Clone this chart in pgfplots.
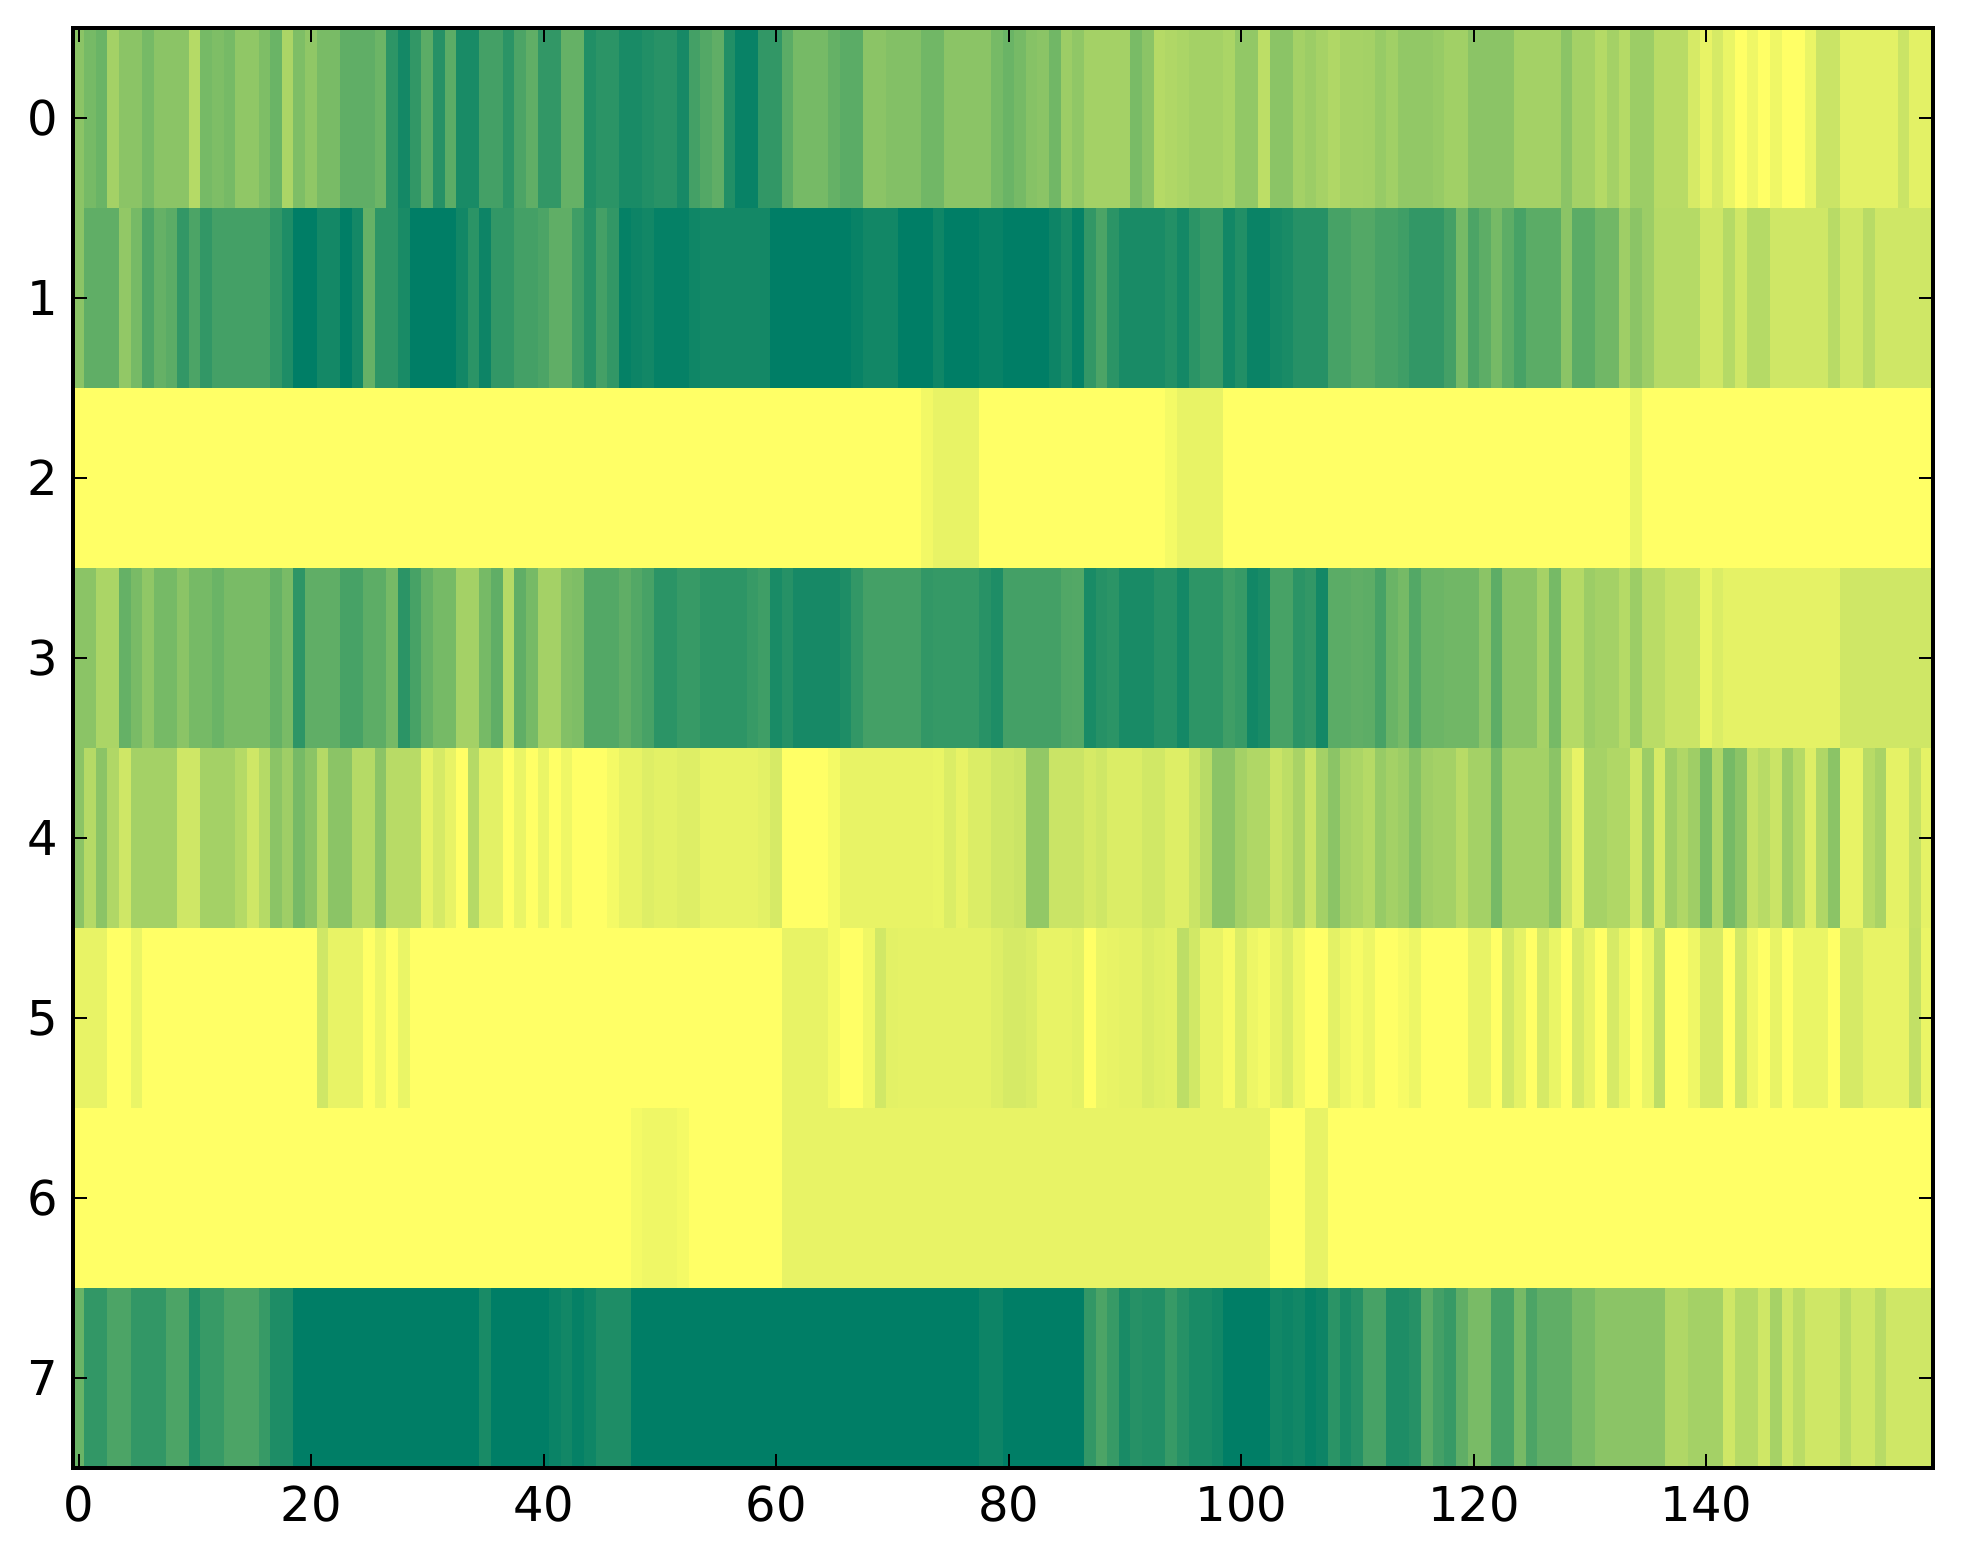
\documentclass[border=0pt]{standalone}
\usepackage{pgfplots}
\usepackage{fontspec}
\setmainfont{DejaVu Sans}
\pgfplotsset{compat=1.18}
\begin{document}
\begin{tikzpicture}
\useasboundingbox (-36.5pt,-48pt) rectangle (945pt,734pt);
\begin{axis}[
  scale only axis, width=930pt, height=720pt,
  xmin=-0.5, xmax=159.5, ymin=-0.5, ymax=7.5, y dir=reverse,
  axis on top, axis line style={line width=2pt, black},
  tick align=inside, major tick length=7pt, tick style={line width=0.9pt, black},
  xtick={0,20,...,140}, ytick={0,...,7},
  xtick pos=both, ytick pos=both,
  xticklabel pos=bottom, yticklabel pos=left,
  tick label style={font=\fontsize{24}{28}\selectfont},
  /pgf/number format/assume math mode=true,
  xticklabel style={yshift=-5.5pt}, yticklabel style={xshift=-4pt},
  colormap={summerr}{rgb255(0)=(0,126,102) rgb255(98)=(247,251,102) rgb255(100)=(255,255,102)},
  point meta min=0, point meta max=100,
]
\addplot[matrix plot*, mesh/cols=160, point meta=\thisrow{v}, draw=none] table[
  row sep=crcr,
  x expr={mod(\coordindex,160)},
  y expr={floor(\coordindex/160)},
] {
v\\
55\\47\\42\\65\\55\\55\\47\\55\\55\\55\\72\\47\\50\\47\\57\\57\\50\\42\\68\\50\\57\\48\\48\\38\\38\\38\\43\\18\\8\\20\\36\\15\\36\\10\\10\\27\\27\\17\\30\\38\\20\\20\\40\\40\\13\\17\\17\\10\\10\\13\\16\\16\\9\\27\\33\\38\\13\\3\\3\\20\\20\\36\\47\\47\\47\\40\\36\\36\\55\\55\\52\\52\\52\\45\\45\\55\\55\\55\\55\\47\\
42\\47\\53\\55\\45\\62\\57\\65\\65\\65\\65\\48\\55\\72\\70\\68\\65\\65\\65\\68\\58\\58\\75\\55\\55\\65\\62\\66\\70\\66\\66\\65\\60\\64\\58\\58\\58\\60\\64\\64\\55\\55\\55\\55\\65\\65\\65\\65\\55\\65\\65\\72\\65\\72\\62\\62\\73\\73\\73\\85\\92\\85\\93\\100\\95\\100\\95\\100\\100\\93\\80\\80\\90\\90\\90\\90\\90\\80\\90\\90\\
55\\38\\38\\38\\58\\47\\30\\40\\36\\20\\30\\20\\27\\27\\27\\27\\27\\20\\12\\0\\0\\8\\8\\0\\8\\40\\18\\18\\10\\0\\0\\0\\0\\7\\17\\5\\20\\20\\27\\27\\30\\38\\38\\25\\15\\27\\20\\2\\5\\7\\2\\2\\2\\6\\8\\8\\8\\8\\8\\8\\0\\0\\0\\0\\0\\0\\0\\3\\7\\7\\7\\0\\0\\0\\6\\0\\0\\0\\3\\3\\
0\\0\\0\\0\\5\\10\\2\\20\\30\\17\\10\\10\\10\\10\\14\\8\\17\\22\\22\\7\\13\\4\\4\\8\\10\\15\\15\\15\\28\\28\\33\\33\\28\\28\\25\\20\\20\\20\\27\\47\\30\\37\\47\\37\\28\\36\\36\\36\\55\\36\\36\\45\\45\\63\\55\\62\\72\\72\\72\\72\\82\\82\\72\\82\\72\\72\\82\\82\\82\\82\\82\\73\\82\\82\\73\\82\\82\\82\\82\\82\\
100\\100\\100\\100\\100\\100\\100\\100\\100\\100\\100\\100\\100\\100\\100\\100\\100\\100\\100\\100\\100\\100\\100\\100\\100\\100\\100\\100\\100\\100\\100\\100\\100\\100\\100\\100\\100\\100\\100\\100\\100\\100\\100\\100\\100\\100\\100\\100\\100\\100\\100\\100\\100\\100\\100\\100\\100\\100\\100\\100\\100\\100\\100\\100\\100\\100\\100\\100\\100\\100\\100\\100\\100\\96\\92\\92\\92\\92\\100\\100\\
100\\100\\100\\100\\100\\100\\100\\100\\100\\100\\100\\100\\100\\100\\97\\92\\92\\92\\92\\100\\100\\100\\100\\100\\100\\100\\100\\100\\100\\100\\100\\100\\100\\100\\100\\100\\100\\100\\100\\100\\100\\100\\100\\100\\100\\100\\100\\100\\100\\100\\100\\100\\100\\100\\93\\100\\100\\100\\100\\100\\100\\100\\100\\100\\100\\100\\100\\100\\100\\100\\100\\100\\100\\100\\100\\100\\100\\100\\100\\100\\
55\\55\\68\\68\\40\\48\\57\\47\\47\\55\\47\\47\\42\\48\\48\\48\\48\\40\\48\\18\\38\\38\\38\\28\\28\\37\\37\\47\\17\\28\\40\\47\\47\\65\\65\\47\\38\\72\\38\\47\\65\\65\\52\\50\\33\\33\\33\\38\\33\\28\\17\\17\\22\\22\\18\\18\\18\\18\\22\\25\\10\\15\\9\\9\\9\\9\\12\\20\\27\\27\\27\\27\\27\\20\\21\\21\\21\\21\\16\\12\\
27\\27\\27\\27\\27\\32\\33\\10\\15\\17\\10\\10\\10\\15\\15\\8\\18\\18\\18\\25\\22\\7\\10\\28\\28\\17\\20\\8\\36\\36\\38\\37\\28\\42\\47\\33\\43\\43\\45\\45\\45\\55\\37\\55\\55\\55\\66\\47\\72\\72\\62\\65\\65\\72\\62\\74\\74\\80\\80\\80\\93\\87\\91\\91\\91\\91\\91\\91\\91\\91\\91\\91\\82\\82\\82\\82\\82\\82\\82\\82\\
55\\72\\55\\70\\82\\65\\65\\65\\65\\82\\82\\65\\65\\65\\72\\82\\72\\55\\63\\47\\55\\72\\55\\55\\72\\72\\55\\73\\73\\73\\92\\85\\92\\100\\72\\90\\90\\100\\93\\100\\93\\100\\95\\100\\100\\100\\97\\92\\92\\88\\90\\90\\88\\88\\92\\92\\92\\92\\92\\90\\85\\100\\100\\100\\100\\97\\92\\92\\92\\92\\92\\92\\92\\92\\93\\87\\92\\87\\87\\82\\
82\\80\\58\\58\\80\\80\\80\\85\\82\\87\\87\\87\\83\\83\\88\\88\\80\\73\\55\\55\\65\\70\\70\\80\\75\\67\\80\\65\\55\\65\\68\\72\\60\\65\\62\\53\\63\\65\\65\\73\\65\\65\\47\\65\\65\\65\\65\\55\\80\\92\\66\\66\\70\\70\\83\\62\\85\\63\\70\\63\\47\\70\\47\\55\\78\\73\\80\\62\\72\\88\\70\\55\\92\\92\\73\\67\\91\\91\\78\\91\\
92\\92\\92\\100\\100\\93\\100\\100\\100\\100\\100\\100\\100\\100\\100\\100\\100\\100\\100\\100\\100\\82\\92\\92\\92\\100\\94\\100\\93\\100\\100\\100\\100\\100\\100\\100\\100\\100\\100\\100\\100\\100\\100\\100\\100\\100\\100\\100\\100\\100\\100\\100\\100\\100\\100\\100\\100\\100\\100\\100\\100\\92\\92\\92\\92\\97\\100\\100\\95\\83\\90\\91\\91\\91\\91\\91\\91\\91\\91\\88\\
85\\85\\87\\92\\92\\92\\90\\100\\93\\92\\91\\91\\87\\89\\90\\75\\83\\92\\92\\98\\87\\94\\97\\92\\87\\95\\100\\100\\90\\95\\98\\94\\100\\100\\98\\94\\100\\100\\100\\100\\92\\92\\100\\83\\91\\100\\85\\93\\100\\85\\92\\100\\85\\93\\100\\93\\75\\100\\100\\95\\85\\85\\100\\83\\95\\100\\92\\100\\93\\93\\93\\100\\85\\85\\92\\92\\92\\92\\77\\93\\
100\\100\\100\\100\\100\\100\\100\\100\\100\\100\\100\\100\\100\\100\\100\\100\\100\\100\\100\\100\\100\\100\\100\\100\\100\\100\\100\\100\\100\\100\\100\\100\\100\\100\\100\\100\\100\\100\\100\\100\\100\\100\\100\\100\\100\\100\\100\\100\\97\\95\\95\\95\\97\\100\\100\\100\\100\\100\\100\\100\\100\\92\\92\\92\\92\\92\\92\\92\\92\\92\\92\\92\\92\\92\\92\\92\\92\\92\\92\\92\\
92\\92\\92\\92\\92\\92\\92\\92\\92\\92\\92\\92\\92\\92\\92\\92\\92\\92\\92\\92\\92\\92\\92\\100\\100\\100\\92\\92\\100\\100\\100\\100\\100\\100\\100\\100\\100\\100\\100\\100\\100\\100\\100\\100\\100\\100\\100\\100\\100\\100\\100\\100\\100\\100\\100\\100\\100\\100\\100\\100\\100\\100\\100\\100\\100\\100\\100\\100\\100\\100\\100\\100\\100\\100\\100\\100\\100\\100\\100\\100\\
42\\20\\20\\30\\30\\20\\20\\20\\30\\30\\13\\22\\22\\30\\30\\30\\22\\12\\12\\0\\0\\0\\0\\0\\0\\0\\0\\0\\0\\0\\0\\0\\0\\0\\0\\10\\0\\0\\0\\0\\0\\4\\7\\2\\6\\12\\12\\12\\0\\0\\0\\0\\0\\0\\0\\0\\0\\0\\0\\0\\0\\0\\0\\0\\0\\0\\0\\0\\0\\0\\0\\0\\0\\0\\0\\0\\0\\0\\5\\5\\
0\\0\\0\\0\\0\\0\\0\\20\\30\\22\\10\\15\\13\\13\\22\\15\\10\\10\\7\\0\\0\\0\\0\\7\\5\\7\\2\\5\\17\\10\\15\\28\\28\\12\\12\\15\\36\\27\\22\\38\\48\\48\\28\\28\\47\\30\\38\\38\\38\\48\\48\\55\\55\\55\\55\\55\\55\\70\\70\\65\\65\\65\\82\\72\\72\\82\\66\\82\\74\\82\\82\\82\\74\\82\\82\\73\\82\\82\\82\\82\\
};
\end{axis}
\end{tikzpicture}
\end{document}
